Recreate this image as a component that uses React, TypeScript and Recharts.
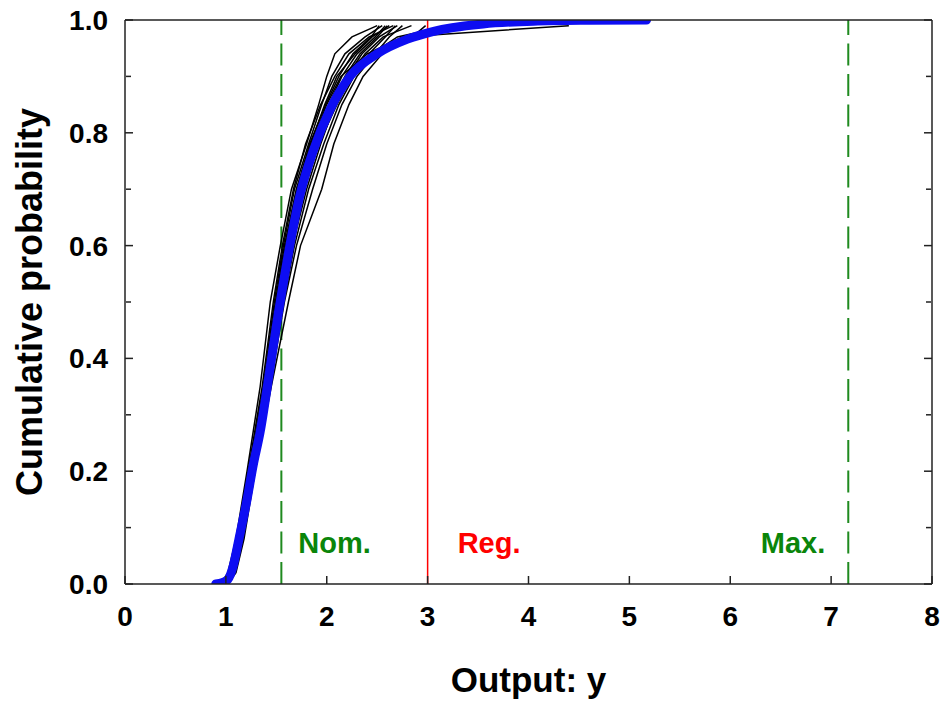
import { LineChart, Line, XAxis, YAxis, ReferenceLine } from 'recharts';

// shared cumulative probability levels for the simulated runs
const P_LEVELS = [0, 0.02, 0.08, 0.2, 0.35, 0.5, 0.6, 0.7, 0.78, 0.85, 0.9, 0.94, 0.97, 0.99];

// output value reached by each run at the levels above
const RUNS_X = [
  [0.95, 1.02, 1.10, 1.21, 1.34, 1.44, 1.54, 1.65, 1.80, 1.92, 2.00, 2.08, 2.25, 2.50],
  [1.02, 1.10, 1.18, 1.29, 1.45, 1.62, 1.74, 1.95, 2.07, 2.22, 2.36, 2.55, 2.85, 2.98],
  [0.97, 1.05, 1.13, 1.25, 1.39, 1.50, 1.60, 1.71, 1.84, 1.98, 2.10, 2.28, 2.45, 2.62],
  [0.99, 1.06, 1.15, 1.27, 1.41, 1.53, 1.63, 1.76, 1.90, 2.05, 2.20, 2.35, 2.52, 2.70],
  [0.96, 1.04, 1.12, 1.23, 1.37, 1.48, 1.57, 1.68, 1.82, 1.95, 2.05, 2.18, 2.38, 2.55],
  [1.00, 1.08, 1.16, 1.28, 1.43, 1.57, 1.68, 1.82, 1.97, 2.12, 2.27, 2.45, 2.70, 3.20],
  [0.98, 1.05, 1.14, 1.26, 1.40, 1.52, 1.61, 1.73, 1.86, 2.02, 2.15, 2.30, 2.48, 2.58],
  [0.97, 1.04, 1.12, 1.24, 1.38, 1.50, 1.59, 1.70, 1.85, 2.00, 2.14, 2.40, 2.75, 4.40],
  [1.01, 1.09, 1.17, 1.29, 1.44, 1.58, 1.70, 1.86, 2.00, 2.15, 2.30, 2.48, 2.62, 2.75],
  [0.96, 1.03, 1.11, 1.22, 1.36, 1.47, 1.56, 1.67, 1.79, 1.94, 2.08, 2.22, 2.42, 2.66],
  [0.99, 1.07, 1.15, 1.26, 1.40, 1.54, 1.66, 1.80, 1.94, 2.08, 2.22, 2.38, 2.56, 2.84],
  [0.98, 1.06, 1.14, 1.25, 1.39, 1.51, 1.62, 1.75, 1.88, 2.04, 2.18, 2.33, 2.50, 2.60],
  [1.00, 1.07, 1.16, 1.27, 1.42, 1.55, 1.64, 1.78, 1.92, 2.10, 2.25, 2.42, 2.58, 2.68],
  [0.97, 1.05, 1.13, 1.24, 1.38, 1.49, 1.58, 1.70, 1.83, 1.99, 2.12, 2.26, 2.44, 2.52],
];

// fitted distribution (blue)
const FIT_X = [0.90, 0.97, 1.02, 1.07, 1.13, 1.21, 1.27, 1.34, 1.44, 1.52, 1.59, 1.66, 1.73, 1.87, 2.03, 2.23, 2.50, 2.80, 3.06, 3.55, 4.05, 4.60, 5.17];
const FIT_P = [0, 0.003, 0.008, 0.03, 0.08, 0.15, 0.21, 0.27, 0.385, 0.48, 0.555, 0.625, 0.686, 0.77, 0.84, 0.90, 0.94, 0.966, 0.98, 0.993, 0.998, 0.9995, 1.0];

const NOM_X = 1.55;
const REG_X = 3.0;
const MAX_X = 7.17;

const X_TICKS = [0, 1, 2, 3, 4, 5, 6, 7, 8];
const Y_MAJOR = [0, 0.2, 0.4, 0.6, 0.8, 1.0];
const Y_MINOR = [0.1, 0.3, 0.5, 0.7, 0.9];

const runData = RUNS_X.map((xs) => xs.map((x, i) => ({ x, p: P_LEVELS[i] })));
const fitData = FIT_X.map((x, i) => ({ x, p: FIT_P[i] }));

const FONT = '"Liberation Sans", Arial, Helvetica, sans-serif';
const GREEN = '#1f8a1f';
const frame = { stroke: '#222', strokeWidth: 1.5 };
const tickFont = { fontSize: 28, fontWeight: 700, fill: '#000', fontFamily: FONT };
const noLabel = () => '';

export default function App() {
  return (
    <div style={{ position: 'fixed', top: 0, left: 0, width: 943, height: 702, background: '#fff' }}>
      <LineChart width={943} height={702} margin={{ top: 19, right: 11, bottom: 0, left: 0 }}>
        {/* bottom axis: labels outside, ticks pointing inward */}
        <XAxis
          xAxisId="x"
          type="number"
          dataKey="x"
          domain={[0, 8]}
          ticks={X_TICKS}
          interval={0}
          height={118}
          tickSize={-8}
          tickMargin={30}
          tickLine={frame}
          axisLine={frame}
          tick={tickFont}
          allowDataOverflow
          label={{ value: 'Output: y', position: 'insideBottom', offset: 10, fontSize: 35, fontWeight: 700, fill: '#000', fontFamily: FONT }}
        />
        {/* top frame with inward ticks */}
        <XAxis
          xAxisId="xt"
          type="number"
          orientation="top"
          domain={[0, 8]}
          ticks={X_TICKS}
          interval={0}
          height={1}
          tickSize={-8}
          tickFormatter={noLabel}
          axisLine={frame}
          tickLine={frame}
          allowDataOverflow
        />
        <YAxis
          yAxisId="y"
          type="number"
          dataKey="p"
          domain={[0, 1]}
          ticks={Y_MAJOR}
          width={125}
          tickSize={0}
          tickMargin={17}
          tickLine={false}
          axisLine={false}
          tick={tickFont}
          tickFormatter={(v: number) => v.toFixed(1)}
          allowDataOverflow
          label={{ value: 'Cumulative probability', angle: -90, position: 'center', dx: -33, fontSize: 36, fontWeight: 700, fill: '#000', fontFamily: FONT }}
        />

        {/* inward y ticks and the side frame */}
        <YAxis yAxisId="ylM" type="number" domain={[0, 1]} ticks={Y_MAJOR} interval={0} width={1} allowDataOverflow mirror tickSize={8} tickFormatter={noLabel} axisLine={frame} tickLine={frame} />
        <YAxis yAxisId="ylm" type="number" domain={[0, 1]} ticks={Y_MINOR} interval={0} width={1} allowDataOverflow mirror tickSize={5} tickFormatter={noLabel} axisLine={false} tickLine={frame} />
        <YAxis yAxisId="yrM" type="number" orientation="right" domain={[0, 1]} ticks={Y_MAJOR} interval={0} width={1} allowDataOverflow mirror tickSize={8} tickFormatter={noLabel} axisLine={frame} tickLine={frame} />
        <YAxis yAxisId="yrm" type="number" orientation="right" domain={[0, 1]} ticks={Y_MINOR} interval={0} width={1} allowDataOverflow mirror tickSize={5} tickFormatter={noLabel} axisLine={false} tickLine={frame} />

        <ReferenceLine
          xAxisId="x"
          yAxisId="y"
          x={NOM_X}
          stroke={GREEN}
          strokeWidth={2}
          strokeDasharray="22 8.5"
          label={{ value: 'Nom.', position: 'insideBottomLeft', offset: 17, dy: -14, fill: '#0a850a', fontSize: 29, fontWeight: 700, fontFamily: FONT }}
        />
        <ReferenceLine
          xAxisId="x"
          yAxisId="y"
          x={REG_X}
          stroke="#ff0000"
          strokeWidth={1.5}
          label={{ value: 'Reg.', position: 'insideBottomLeft', offset: 30, dy: -1, fill: '#ff0000', fontSize: 29, fontWeight: 700, fontFamily: FONT }}
        />
        <ReferenceLine
          xAxisId="x"
          yAxisId="y"
          x={MAX_X}
          stroke={GREEN}
          strokeWidth={2}
          strokeDasharray="22 8.5"
          label={{ value: 'Max.', position: 'insideBottomRight', offset: 23, dy: -8, fill: '#0a850a', fontSize: 29, fontWeight: 700, fontFamily: FONT }}
        />

        {runData.map((d, i) => (
          <Line
            key={i}
            xAxisId="x"
            yAxisId="y"
            data={d}
            dataKey="p"
            type="linear"
            stroke="#000"
            strokeWidth={1.5}
            dot={false}
            isAnimationActive={false}
          />
        ))}
        <Line
          xAxisId="x"
          yAxisId="y"
          data={fitData}
          dataKey="p"
          type="monotone"
          stroke="#0d0df2"
          strokeWidth={9}
          strokeLinecap="round"
          strokeLinejoin="round"
          dot={false}
          isAnimationActive={false}
        />
      </LineChart>
    </div>
  );
}
